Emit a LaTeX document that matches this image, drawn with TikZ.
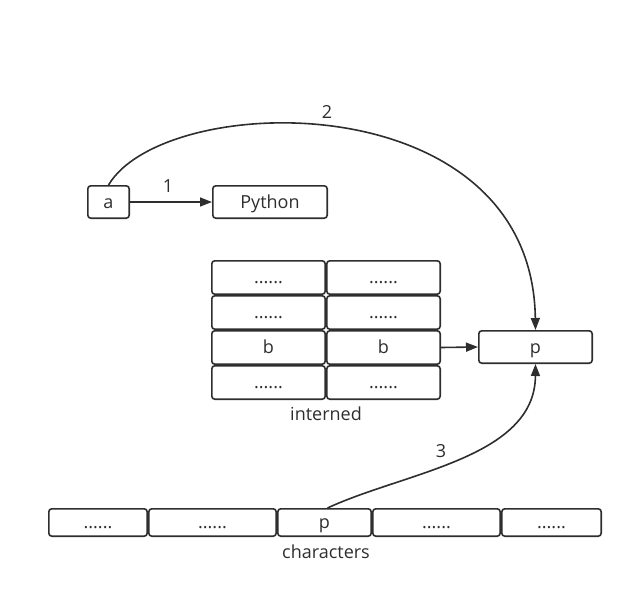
\documentclass[tikz,border=0pt]{standalone}
\usepackage{fontspec}
\setmainfont{Open Sans}
\usetikzlibrary{arrows.meta}
\definecolor{ink}{HTML}{2E2E2E}
\begin{document}
\begin{tikzpicture}[x=1pt,y=-1pt,
  txt/.style={text=ink, font=\fontsize{18}{21}\selectfont},
  box/.style={txt, draw=ink, line width=1.6pt, rounded corners=3pt, inner sep=0pt, text height=12.5pt, text depth=0pt},
  cell/.style={box, minimum width=113.4pt, minimum height=33.4pt},
  chr/.style={box, minimum height=27.4pt},
  conn/.style={draw=ink, line width=1.6pt, -{Triangle[length=12pt,width=9pt]}}]
\useasboundingbox (0,0) rectangle (633,595);
\node[box, minimum width=41.4pt, minimum height=32.4pt] (a) at (108.5,202) {a};
\node[box, minimum width=114.4pt, minimum height=32.4pt] (py) at (270,202) {Python};
% interned grid
\node[cell] (g11) at (268.5,277.5) {......};
\node[cell] (g12) at (383.5,277.5) {......};
\node[cell] (g21) at (268.5,312.5) {......};
\node[cell] (g22) at (383.5,312.5) {......};
\node[cell] (g31) at (268.5,347.5) {b};
\node[cell] (g32) at (383.5,347.5) {b};
\node[cell] (g41) at (268.5,382.5) {......};
\node[cell] (g42) at (383.5,382.5) {......};
\node[txt] (intl) at (326,414) {interned};
% p
\node[box, minimum width=113.4pt, minimum height=32.4pt] (p) at (535.5,347) {p};
% characters
\node[chr, minimum width=98.4pt] (c1) at (98,522.5) {......};
\node[chr, minimum width=127.4pt] (c2) at (212.5,522.5) {......};
\node[chr, minimum width=93.4pt] (c3) at (324.5,522.5) {p};
\node[chr, minimum width=127.4pt] (c4) at (436.5,522.5) {......};
\node[chr, minimum width=99.4pt] (c5) at (551.5,522.5) {......};
\node[txt] (chl) at (326,552) {characters};
% connectors
\draw[conn] (a.east) -- (py.west);
\node[txt] (l1) at (168,186) {1};
\draw[conn] (g32.east) -- (p.west);
\draw[conn] (a.north) .. controls (165,90) and (532,82) .. (p.north);
\node[txt] (l2) at (327,112) {2};
\draw[conn] ([xshift=3pt]c3.north) .. controls (405,472) and (535,458) .. (p.south);
\node[txt] (l3) at (441,451) {3};
\end{tikzpicture}
\end{document}
